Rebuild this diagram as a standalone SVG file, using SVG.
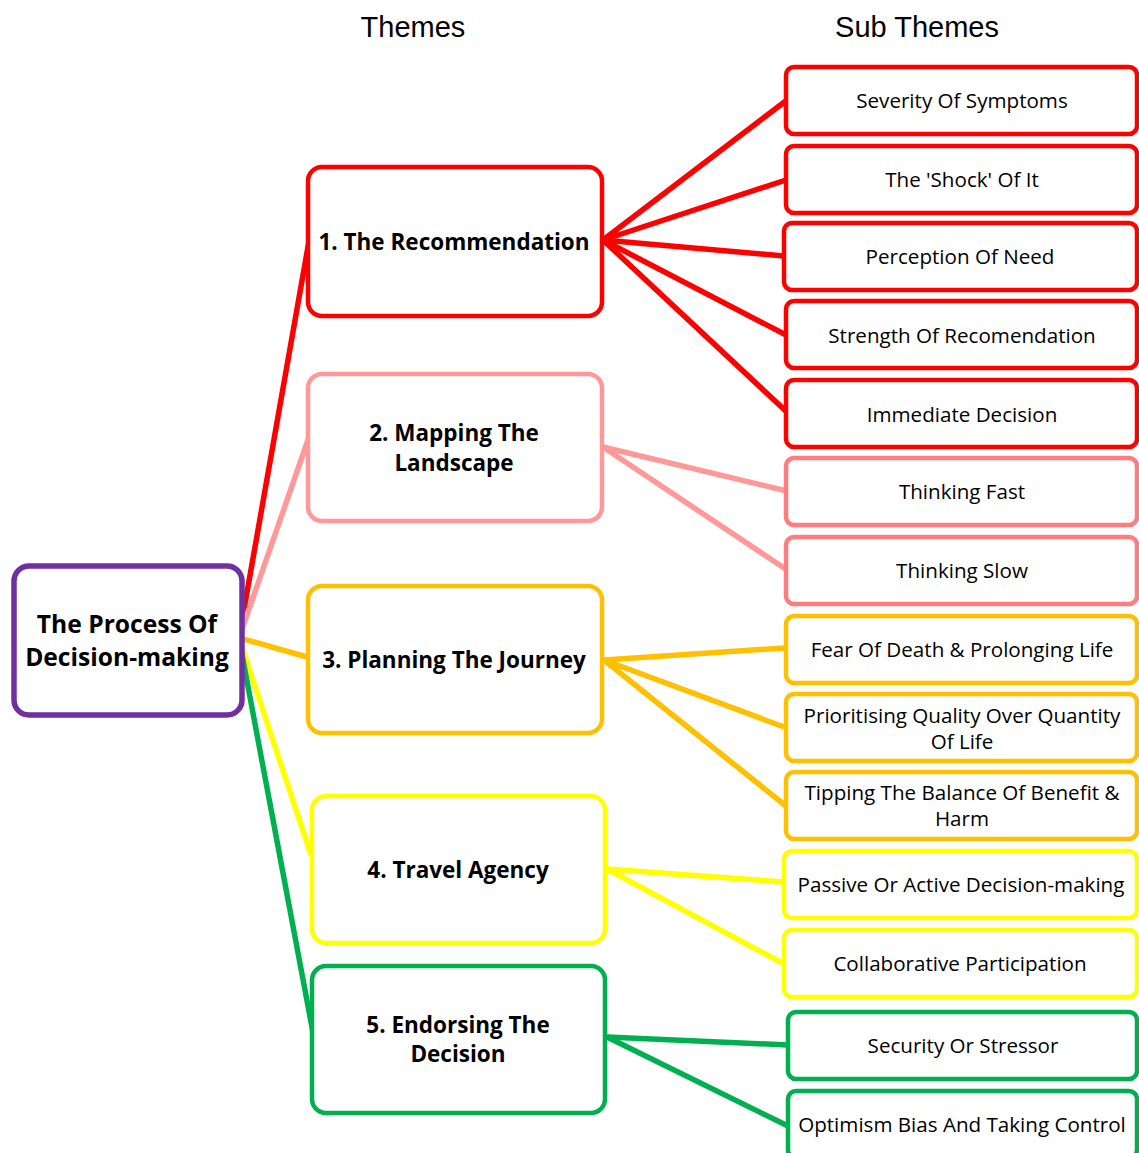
<svg xmlns="http://www.w3.org/2000/svg" width="1139" height="1153" viewBox="0 0 1139 1153">
<style>
  .box{fill:#fff;stroke-width:4.5}
  .root{stroke:#7030A0;stroke-width:5.5}
  .red{stroke:#FF0000}
  .pink{stroke:#FF9999}
  .pink2{stroke:#FF7C80}
  .orange{stroke:#FFC000}
  .yellow{stroke:#FFFF00}
  .green{stroke:#00B050}
  .hdr{font-family:"Liberation Sans",Arial,sans-serif;font-size:29px;fill:#000;text-anchor:middle}
  .tb{font-family:"Open Sans","Noto Sans",sans-serif;font-weight:bold;font-size:22.5px;fill:#000;text-anchor:middle;dominant-baseline:central}
  .rt{font-family:"Open Sans","Noto Sans",sans-serif;font-weight:bold;font-size:24.6px;fill:#000;text-anchor:middle;dominant-baseline:central}
  .st{font-family:"Open Sans","Noto Sans",sans-serif;font-size:20.6px;fill:#000;text-anchor:middle;dominant-baseline:central}
  .c{fill:none;stroke-width:5.5;stroke-linecap:butt}
</style>
<rect width="1139" height="1153" fill="#fff"/>
<text class="hdr" x="413" y="37">Themes</text>
<text class="hdr" x="917" y="37">Sub Themes</text>

<g id="connectors">
  <line class="c red" x1="240" y1="632" x2="309" y2="241"/>
  <line class="c pink" x1="240" y1="635" x2="309" y2="437"/>
  <line class="c orange" x1="240" y1="638" x2="307" y2="657"/>
  <line class="c yellow" x1="240" y1="641" x2="311" y2="855"/>
  <line class="c green" x1="240" y1="644" x2="314" y2="1038"/>

  <line class="c red" x1="603" y1="240" x2="787" y2="100"/>
  <line class="c red" x1="603" y1="240" x2="786" y2="180"/>
  <line class="c red" x1="603" y1="240" x2="784" y2="256"/>
  <line class="c red" x1="603" y1="240" x2="788" y2="336"/>
  <line class="c red" x1="603" y1="240" x2="789" y2="414"/>

  <line class="c pink" x1="603" y1="447" x2="787" y2="491"/>
  <line class="c pink" x1="603" y1="447" x2="787" y2="570"/>

  <line class="c orange" x1="604" y1="660" x2="784" y2="648"/>
  <line class="c orange" x1="604" y1="660" x2="784" y2="727"/>
  <line class="c orange" x1="604" y1="660" x2="786" y2="806"/>

  <line class="c yellow" x1="607" y1="869" x2="784" y2="882"/>
  <line class="c yellow" x1="607" y1="869" x2="784" y2="964"/>

  <line class="c green" x1="607" y1="1037" x2="788" y2="1045"/>
  <line class="c green" x1="607" y1="1037" x2="788" y2="1126"/>
</g>

<g id="root">
  <rect class="box root" x="14" y="566" width="228" height="149" rx="15"/>
  <text class="rt" x="127" y="623">The Process Of</text>
  <text class="rt" x="127" y="656">Decision-making</text>
</g>

<g id="theme1">
  <rect class="box red" x="308" y="167" width="294" height="149" rx="14"/>
  <text class="tb" x="454" y="241">1. The Recommendation</text>
</g>
<g id="theme2">
  <rect class="box pink" x="308" y="374" width="294" height="147" rx="14"/>
  <text class="tb" x="454" y="432">2. Mapping The</text>
  <text class="tb" x="454" y="462">Landscape</text>
</g>
<g id="theme3">
  <rect class="box orange" x="308" y="586" width="294" height="147" rx="14"/>
  <text class="tb" x="454" y="659">3. Planning The Journey</text>
</g>
<g id="theme4">
  <rect class="box yellow" x="312" y="796" width="293" height="147" rx="14"/>
  <text class="tb" x="458" y="869">4. Travel Agency</text>
</g>
<g id="theme5">
  <rect class="box green" x="312" y="966" width="293" height="147" rx="14"/>
  <text class="tb" x="458" y="1024">5. Endorsing The</text>
  <text class="tb" x="458" y="1053">Decision</text>
</g>

<g id="sub1">
  <rect class="box red" x="786" y="67" width="351" height="67" rx="8"/>
  <text class="st" x="962" y="100">Severity Of Symptoms</text>
</g>
<g id="sub2">
  <rect class="box red" x="786" y="146" width="351" height="67" rx="8"/>
  <text class="st" x="962" y="179">The 'Shock' Of It</text>
</g>
<g id="sub3">
  <rect class="box red" x="784" y="223" width="353" height="67" rx="8"/>
  <text class="st" x="960" y="256">Perception Of Need</text>
</g>
<g id="sub4">
  <rect class="box red" x="786" y="301" width="351" height="67" rx="8"/>
  <text class="st" x="962" y="335">Strength Of Recomendation</text>
</g>
<g id="sub5">
  <rect class="box red" x="786" y="380" width="351" height="67" rx="8"/>
  <text class="st" x="962" y="414">Immediate Decision</text>
</g>
<g id="sub6">
  <rect class="box pink2" x="786" y="458" width="351" height="67" rx="8"/>
  <text class="st" x="962" y="491">Thinking Fast</text>
</g>
<g id="sub7">
  <rect class="box pink2" x="786" y="537" width="351" height="67" rx="8"/>
  <text class="st" x="962" y="570">Thinking Slow</text>
</g>
<g id="sub8">
  <rect class="box orange" x="786" y="616" width="351" height="67" rx="8"/>
  <text class="st" x="962" y="649">Fear Of Death &amp; Prolonging Life</text>
</g>
<g id="sub9">
  <rect class="box orange" x="786" y="694" width="351" height="67" rx="8"/>
  <text class="st" x="962" y="715">Prioritising Quality Over Quantity</text>
  <text class="st" x="962" y="741">Of Life</text>
</g>
<g id="sub10">
  <rect class="box orange" x="786" y="772" width="351" height="67" rx="8"/>
  <text class="st" x="962" y="792">Tipping The Balance Of Benefit &amp;</text>
  <text class="st" x="962" y="818">Harm</text>
</g>
<g id="sub11">
  <rect class="box yellow" x="784" y="851" width="353" height="67" rx="8"/>
  <text class="st" x="961" y="884">Passive Or Active Decision-making</text>
</g>
<g id="sub12">
  <rect class="box yellow" x="784" y="930" width="353" height="67" rx="8"/>
  <text class="st" x="960" y="963">Collaborative Participation</text>
</g>
<g id="sub13">
  <rect class="box green" x="788" y="1012" width="349" height="67" rx="8"/>
  <text class="st" x="963" y="1045">Security Or Stressor</text>
</g>
<g id="sub14">
  <rect class="box green" x="788" y="1091" width="349" height="67" rx="8"/>
  <text class="st" x="962" y="1124">Optimism Bias And Taking Control</text>
</g>
</svg>
